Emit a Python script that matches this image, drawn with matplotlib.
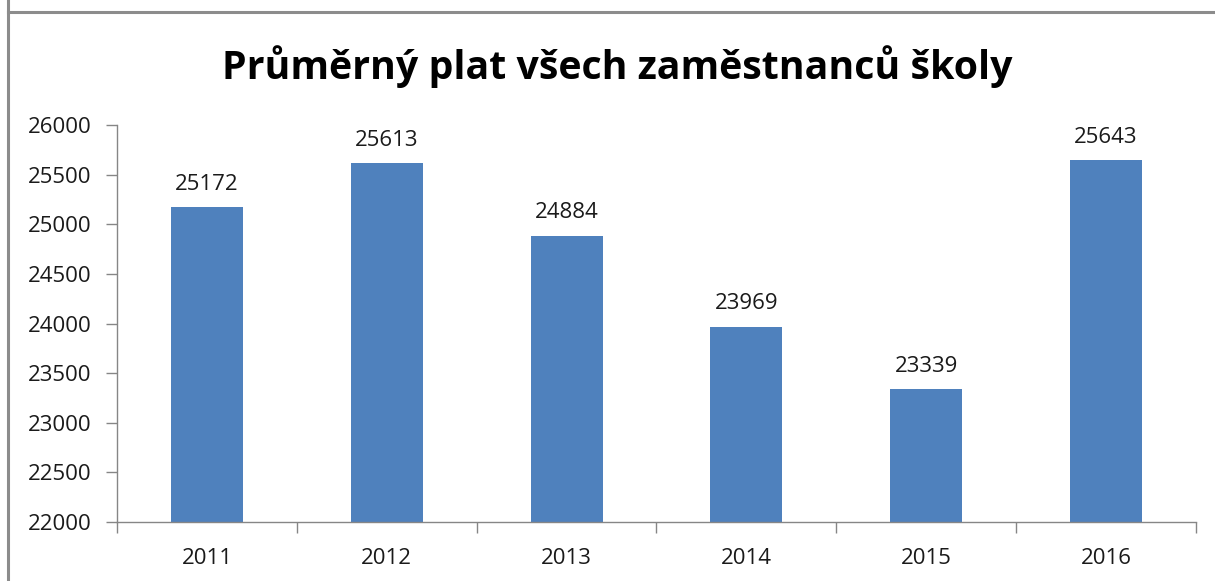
import numpy as np
import matplotlib.pyplot as plt
from matplotlib.lines import Line2D

years = ["2011", "2012", "2013", "2014", "2015", "2016"]
salary = [25172, 25613, 24884, 23969, 23339, 25643]
yticks = list(range(22000, 26001, 500))

plt.rcParams['font.family'] = ['Open Sans', 'DejaVu Sans']

BAR_COLOR = "#4F81BD"
AXIS_COLOR = "#868686"
TEXT_COLOR = "#1a1a1a"

fig = plt.figure(figsize=(12.15, 5.81), dpi=100)
ax = fig.add_axes([117 / 1215, 1 - 522 / 581, (1196 - 117) / 1215, (522 - 125) / 581])

xs = np.arange(len(years))
bars = ax.bar(xs, salary, width=0.4, color=BAR_COLOR, zorder=2)

for x, v in zip(xs, salary):
    ax.annotate(str(v), (x, v), xytext=(0, 9), textcoords="offset points",
                ha="center", va="bottom", fontsize=16, color=TEXT_COLOR)

ax.set_xlim(-0.5, len(years) - 0.5)
ax.set_ylim(22000, 26000)
ax.set_yticks(yticks)
ax.set_yticklabels([str(t) for t in yticks])
ax.set_xticks(xs)
ax.set_xticklabels(years)
ax.set_xticks(np.arange(-0.5, len(years), 1.0), minor=True)

ax.tick_params(axis="x", which="major", length=0, pad=19, labelsize=16, labelcolor=TEXT_COLOR)
ax.tick_params(axis="x", which="minor", length=8, width=1, color=AXIS_COLOR, direction="out")
ax.tick_params(axis="y", length=8, width=1, color=AXIS_COLOR, direction="out",
               pad=10.5, labelsize=16, labelcolor=TEXT_COLOR)

for s in ["top", "right"]:
    ax.spines[s].set_visible(False)
for s in ["left", "bottom"]:
    ax.spines[s].set_color(AXIS_COLOR)
    ax.spines[s].set_linewidth(1)

fig.text(617 / 1215, 1 - 67 / 581, "Průměrný plat všech zaměstnanců školy",
         ha="center", va="center", fontsize=28.3, fontweight="bold", color="black")

# gray frame at top and left edge
fig.add_artist(Line2D([7.5 / 1215, 1], [1 - 11.5 / 581, 1 - 11.5 / 581],
                      transform=fig.transFigure, color="#8c8c8c", linewidth=2.2))
fig.add_artist(Line2D([7.5 / 1215, 7.5 / 1215], [0, 1],
                      transform=fig.transFigure, color="#8c8c8c", linewidth=2.2))

fig.savefig("out.png", dpi=100)
